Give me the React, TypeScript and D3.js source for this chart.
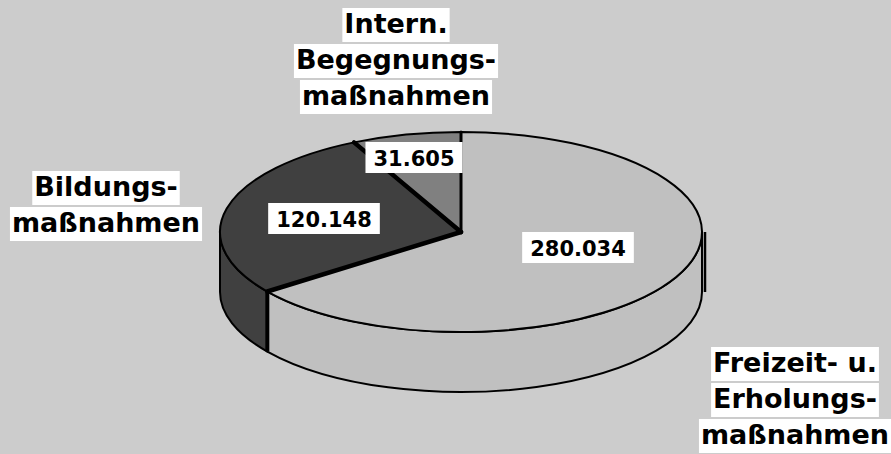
import React, { useEffect, useRef } from "react";
import * as d3 from "d3";

const categories = ["Freizeit- u. Erholungsmaßnahmen", "Bildungsmaßnahmen", "Intern. Begegnungsmaßnahmen"];
const values = [280.034, 120.148, 31.605];
const valueLabels = ["280.034", "120.148", "31.605"];
const categoryLines = [
  ["Freizeit- u.", "Erholungs-", "maßnahmen"],
  ["Bildungs-", "maßnahmen"],
  ["Intern.", "Begegnungs-", "maßnahmen"],
];

// layout (not data)
const W = 891, H = 454;
const CX = 461, CY = 232, RX = 241, RY = 100, DEPTH = 60;
const fills = ["#c0c0c0", "#404040", "#808080"];
const catLayout = [
  { x: 795, top: 347 },
  { x: 106, top: 171 },
  { x: 396, top: 8 },
];
const valLayout = [
  { x: 578, y: 232 },
  { x: 324, y: 203 },
  { x: 414, y: 142 },
];

export default function App() {
  const ref = useRef<SVGSVGElement>(null);
  useEffect(() => {
    const svg = d3.select(ref.current);
    svg.selectAll("*").remove();
    svg.append("rect").attr("width", W).attr("height", H).attr("fill", "#cccccc");

    const arcs = d3.pie<number>().sort(null).value((d) => d)(values);
    const P = (a: number, dz = 0): [number, number] => [CX + RX * Math.sin(a), CY - RY * Math.cos(a) + dz];
    const g = svg.append("g");

    // walls (front half: angles between PI/2 and 3PI/2)
    arcs.forEach((d, i) => {
      const s = Math.max(d.startAngle, Math.PI / 2);
      const e = Math.min(d.endAngle, (3 * Math.PI) / 2);
      if (s >= e) return;
      const p0 = P(s), p1 = P(e), q1 = P(e, DEPTH), q0 = P(s, DEPTH);
      const large = e - s > Math.PI ? 1 : 0;
      const path = `M${p0[0]},${p0[1]} A${RX},${RY} 0 ${large} 1 ${p1[0]},${p1[1]} L${q1[0]},${q1[1]} A${RX},${RY} 0 ${large} 0 ${q0[0]},${q0[1]} Z`;
      g.append("path").attr("d", path).attr("fill", fills[i]).attr("stroke", "#000").attr("stroke-width", 2).attr("stroke-linejoin", "round");
    });

    // vertical edges
    const leftTop = P((3 * Math.PI) / 2), leftBot = P((3 * Math.PI) / 2, DEPTH);
    g.append("line").attr("x1", leftTop[0]).attr("y1", leftTop[1]).attr("x2", leftBot[0]).attr("y2", leftBot[1]).attr("stroke", "#000").attr("stroke-width", 2);
    const rightTop = P(Math.PI / 2), rightBot = P(Math.PI / 2, DEPTH);
    g.append("line").attr("x1", rightTop[0] + 3).attr("y1", rightTop[1]).attr("x2", rightBot[0] + 3).attr("y2", rightBot[1]).attr("stroke", "#000").attr("stroke-width", 2.5);
    arcs.forEach((d) => {
      const a = d.endAngle;
      if (a > Math.PI / 2 && a < (3 * Math.PI) / 2) {
        const t = P(a), b = P(a, DEPTH);
        g.append("line").attr("x1", t[0]).attr("y1", t[1]).attr("x2", b[0]).attr("y2", b[1]).attr("stroke", "#000").attr("stroke-width", 4);
      }
    });

    // top slices
    arcs.forEach((d, i) => {
      const p0 = P(d.startAngle), p1 = P(d.endAngle);
      const large = d.endAngle - d.startAngle > Math.PI ? 1 : 0;
      const path = `M${CX},${CY} L${p0[0]},${p0[1]} A${RX},${RY} 0 ${large} 1 ${p1[0]},${p1[1]} Z`;
      g.append("path").attr("d", path).attr("fill", fills[i]).attr("stroke", "#000").attr("stroke-width", 2).attr("stroke-linejoin", "round");
    });
    // radial boundaries
    arcs.forEach((d, i) => {
      const p = P(d.startAngle);
      g.append("line").attr("x1", CX).attr("y1", CY).attr("x2", p[0]).attr("y2", p[1]).attr("stroke", "#000").attr("stroke-width", i === 0 ? 3 : 4.5).attr("stroke-linecap", "round");
    });

    const font = "'DejaVu Sans', sans-serif";
    // value labels
    arcs.forEach((d, i) => {
      const L = valLayout[i];
      const lg = svg.append("g");
      const rect = lg.append("rect").attr("fill", "#fff");
      const t = lg.append("text").attr("x", L.x).attr("y", L.y + 24).attr("text-anchor", "middle")
        .attr("font-family", font).attr("font-weight", 700).attr("font-size", 21).attr("fill", "#000").text(valueLabels[i]);
      const w = (t.node() as SVGTextElement).getComputedTextLength();
      rect.attr("x", L.x - w / 2 - 8).attr("y", L.y).attr("width", w + 16).attr("height", 31);
    });

    // category labels
    categoryLines.forEach((lines, i) => {
      const L = catLayout[i];
      lines.forEach((line, j) => {
        const top = L.top + j * 36;
        const lg = svg.append("g");
        const rect = lg.append("rect").attr("fill", "#fff");
        const t = lg.append("text").attr("x", L.x).attr("y", top + 25).attr("text-anchor", "middle")
          .attr("font-family", font).attr("font-weight", 700).attr("font-size", 27).attr("fill", "#000")
          .text(line);
        const w = (t.node() as SVGTextElement).getComputedTextLength();
        rect.attr("x", L.x - w / 2 - 2).attr("y", top).attr("width", w + 4).attr("height", 34);
      });
    });
  }, []);
  return (
    <svg ref={ref} width={W} height={H} style={{ position: "absolute", left: 0, top: 0, display: "block" }} aria-label={categories.join(", ")} />
  );
}
